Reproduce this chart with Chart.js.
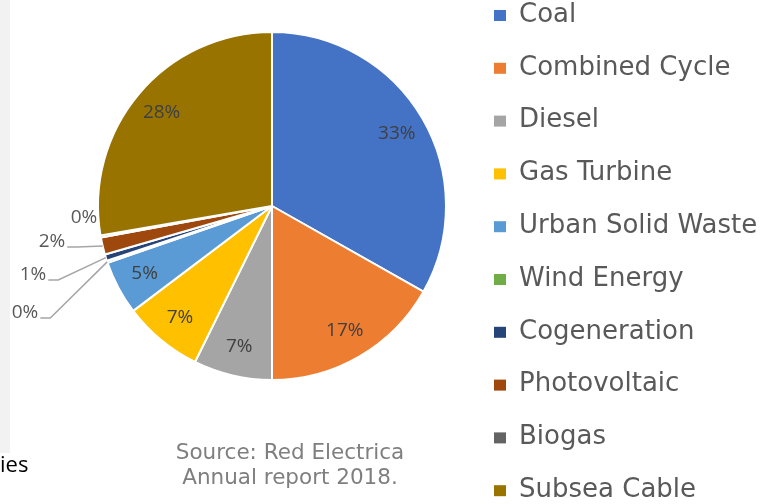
<!DOCTYPE html>
<html lang="en">
<head>
    <meta charset="UTF-8">
    <title>Generation mix</title>
    <script src="https://cdn.jsdelivr.net/npm/chart.js"></script>
    <style>
        body {
            margin: 0;
            padding: 0;
            background-color: #ffffff;
        }
        #wrap {
            width: 763px;
            height: 504px;
        }
    </style>
</head>
<body>
    <div id="wrap">
        <canvas id="mixChart" width="763" height="504"></canvas>
    </div>

    <script>
        const categories = ["Coal", "Combined Cycle", "Diesel", "Gas Turbine", "Urban Solid Waste",
            "Wind Energy", "Cogeneration", "Photovoltaic", "Biogas", "Subsea Cable"];
        const shares = [33.2, 16.8, 7.3, 7.4, 5.0, 0.2, 0.6, 1.6, 0.2, 27.7];
        const sliceColors = ["#4472C4", "#ED7D31", "#A5A5A5", "#FFC000", "#5B9BD5",
            "#70AD47", "#264478", "#9E480E", "#636363", "#997300"];
        const sourceLines = ["Source: Red Electrica", "Annual report 2018."];

        // small slices get their label pulled out to the left with a leader line
        const outsideLabels = {
            8: { dx: -188, dy: 12, line: false },
            7: { dx: -220, dy: 36, line: true },
            6: { dx: -239, dy: 69, line: true },
            5: { dx: -247, dy: 107, line: true }
        };

        const sliceLabels = {
            id: 'sliceLabels',
            afterDatasetsDraw(chart) {
                const ctx = chart.ctx;
                const meta = chart.getDatasetMeta(0);
                ctx.save();
                meta.data.forEach((arc, i) => {
                    const p = arc.getProps(['x', 'y', 'startAngle', 'endAngle', 'outerRadius'], true);
                    const mid = (p.startAngle + p.endAngle) / 2;
                    const text = Math.round(shares[i]) + '%';
                    const out = outsideLabels[i];
                    ctx.font = '19px "Open Sans"';
                    ctx.textBaseline = 'middle';
                    if (out) {
                        const tx = p.x + out.dx;
                        const ty = p.y + out.dy;
                        ctx.fillStyle = '#595959';
                        ctx.textAlign = 'center';
                        ctx.fillText(text, tx, ty);
                        if (out.line) {
                            const w = ctx.measureText(text).width;
                            const ax = p.x + Math.cos(mid) * p.outerRadius;
                            const ay = p.y + Math.sin(mid) * p.outerRadius;
                            ctx.strokeStyle = '#a6a6a6';
                            ctx.lineWidth = 1.5;
                            ctx.beginPath();
                            ctx.moveTo(tx + w / 2 + 2, ty + 5);
                            ctx.lineTo(tx + w / 2 + 12, ty + 5);
                            ctx.lineTo(ax, ay);
                            ctx.stroke();
                        }
                    } else {
                        const r = p.outerRadius * 0.83;
                        ctx.fillStyle = '#404040';
                        ctx.textAlign = 'center';
                        ctx.fillText(text, p.x + Math.cos(mid) * r, p.y + Math.sin(mid) * r);
                    }
                });
                ctx.restore();
            }
        };

        const sideLegend = {
            id: 'sideLegend',
            beforeDraw(chart) {
                const ctx = chart.ctx;
                ctx.save();
                ctx.fillStyle = '#f2f2f2';
                ctx.fillRect(0, 0, 10, 453);
                ctx.restore();
            },
            afterDraw(chart) {
                const ctx = chart.ctx;
                ctx.save();
                ctx.textBaseline = 'middle';
                categories.forEach((name, i) => {
                    const y = 15 + i * 52.8;
                    ctx.fillStyle = sliceColors[i];
                    ctx.fillRect(494, y - 5, 12, 11);
                    ctx.fillStyle = '#595959';
                    ctx.textAlign = 'left';
                    ctx.font = '26px "DejaVu Sans"';
                    ctx.fillText(name, 519, y);
                });
                // source note under the pie
                ctx.fillStyle = '#7f7f7f';
                ctx.textAlign = 'center';
                ctx.font = '21.5px "DejaVu Sans"';
                sourceLines.forEach((line, i) => {
                    ctx.fillText(line, 290, 453 + i * 25);
                });
                // cut-off text from the page behind
                ctx.fillStyle = '#000000';
                ctx.textAlign = 'left';
                ctx.font = '22px "Open Sans"';
                ctx.fillText('ies', 0, 466);
                ctx.restore();
            }
        };

        const ctx = document.getElementById('mixChart').getContext('2d');
        const mixChart = new Chart(ctx, {
            type: 'pie',
            data: {
                labels: categories,
                datasets: [{
                    data: shares,
                    backgroundColor: sliceColors,
                    borderColor: '#ffffff',
                    borderWidth: 2
                }]
            },
            options: {
                responsive: false,
                animation: false,
                layout: { padding: { left: 97, right: 316, top: 31, bottom: 123 } },
                plugins: {
                    legend: { display: false },
                    tooltip: { enabled: false }
                }
            },
            plugins: [sliceLabels, sideLegend]
        });
    </script>
</body>
</html>
